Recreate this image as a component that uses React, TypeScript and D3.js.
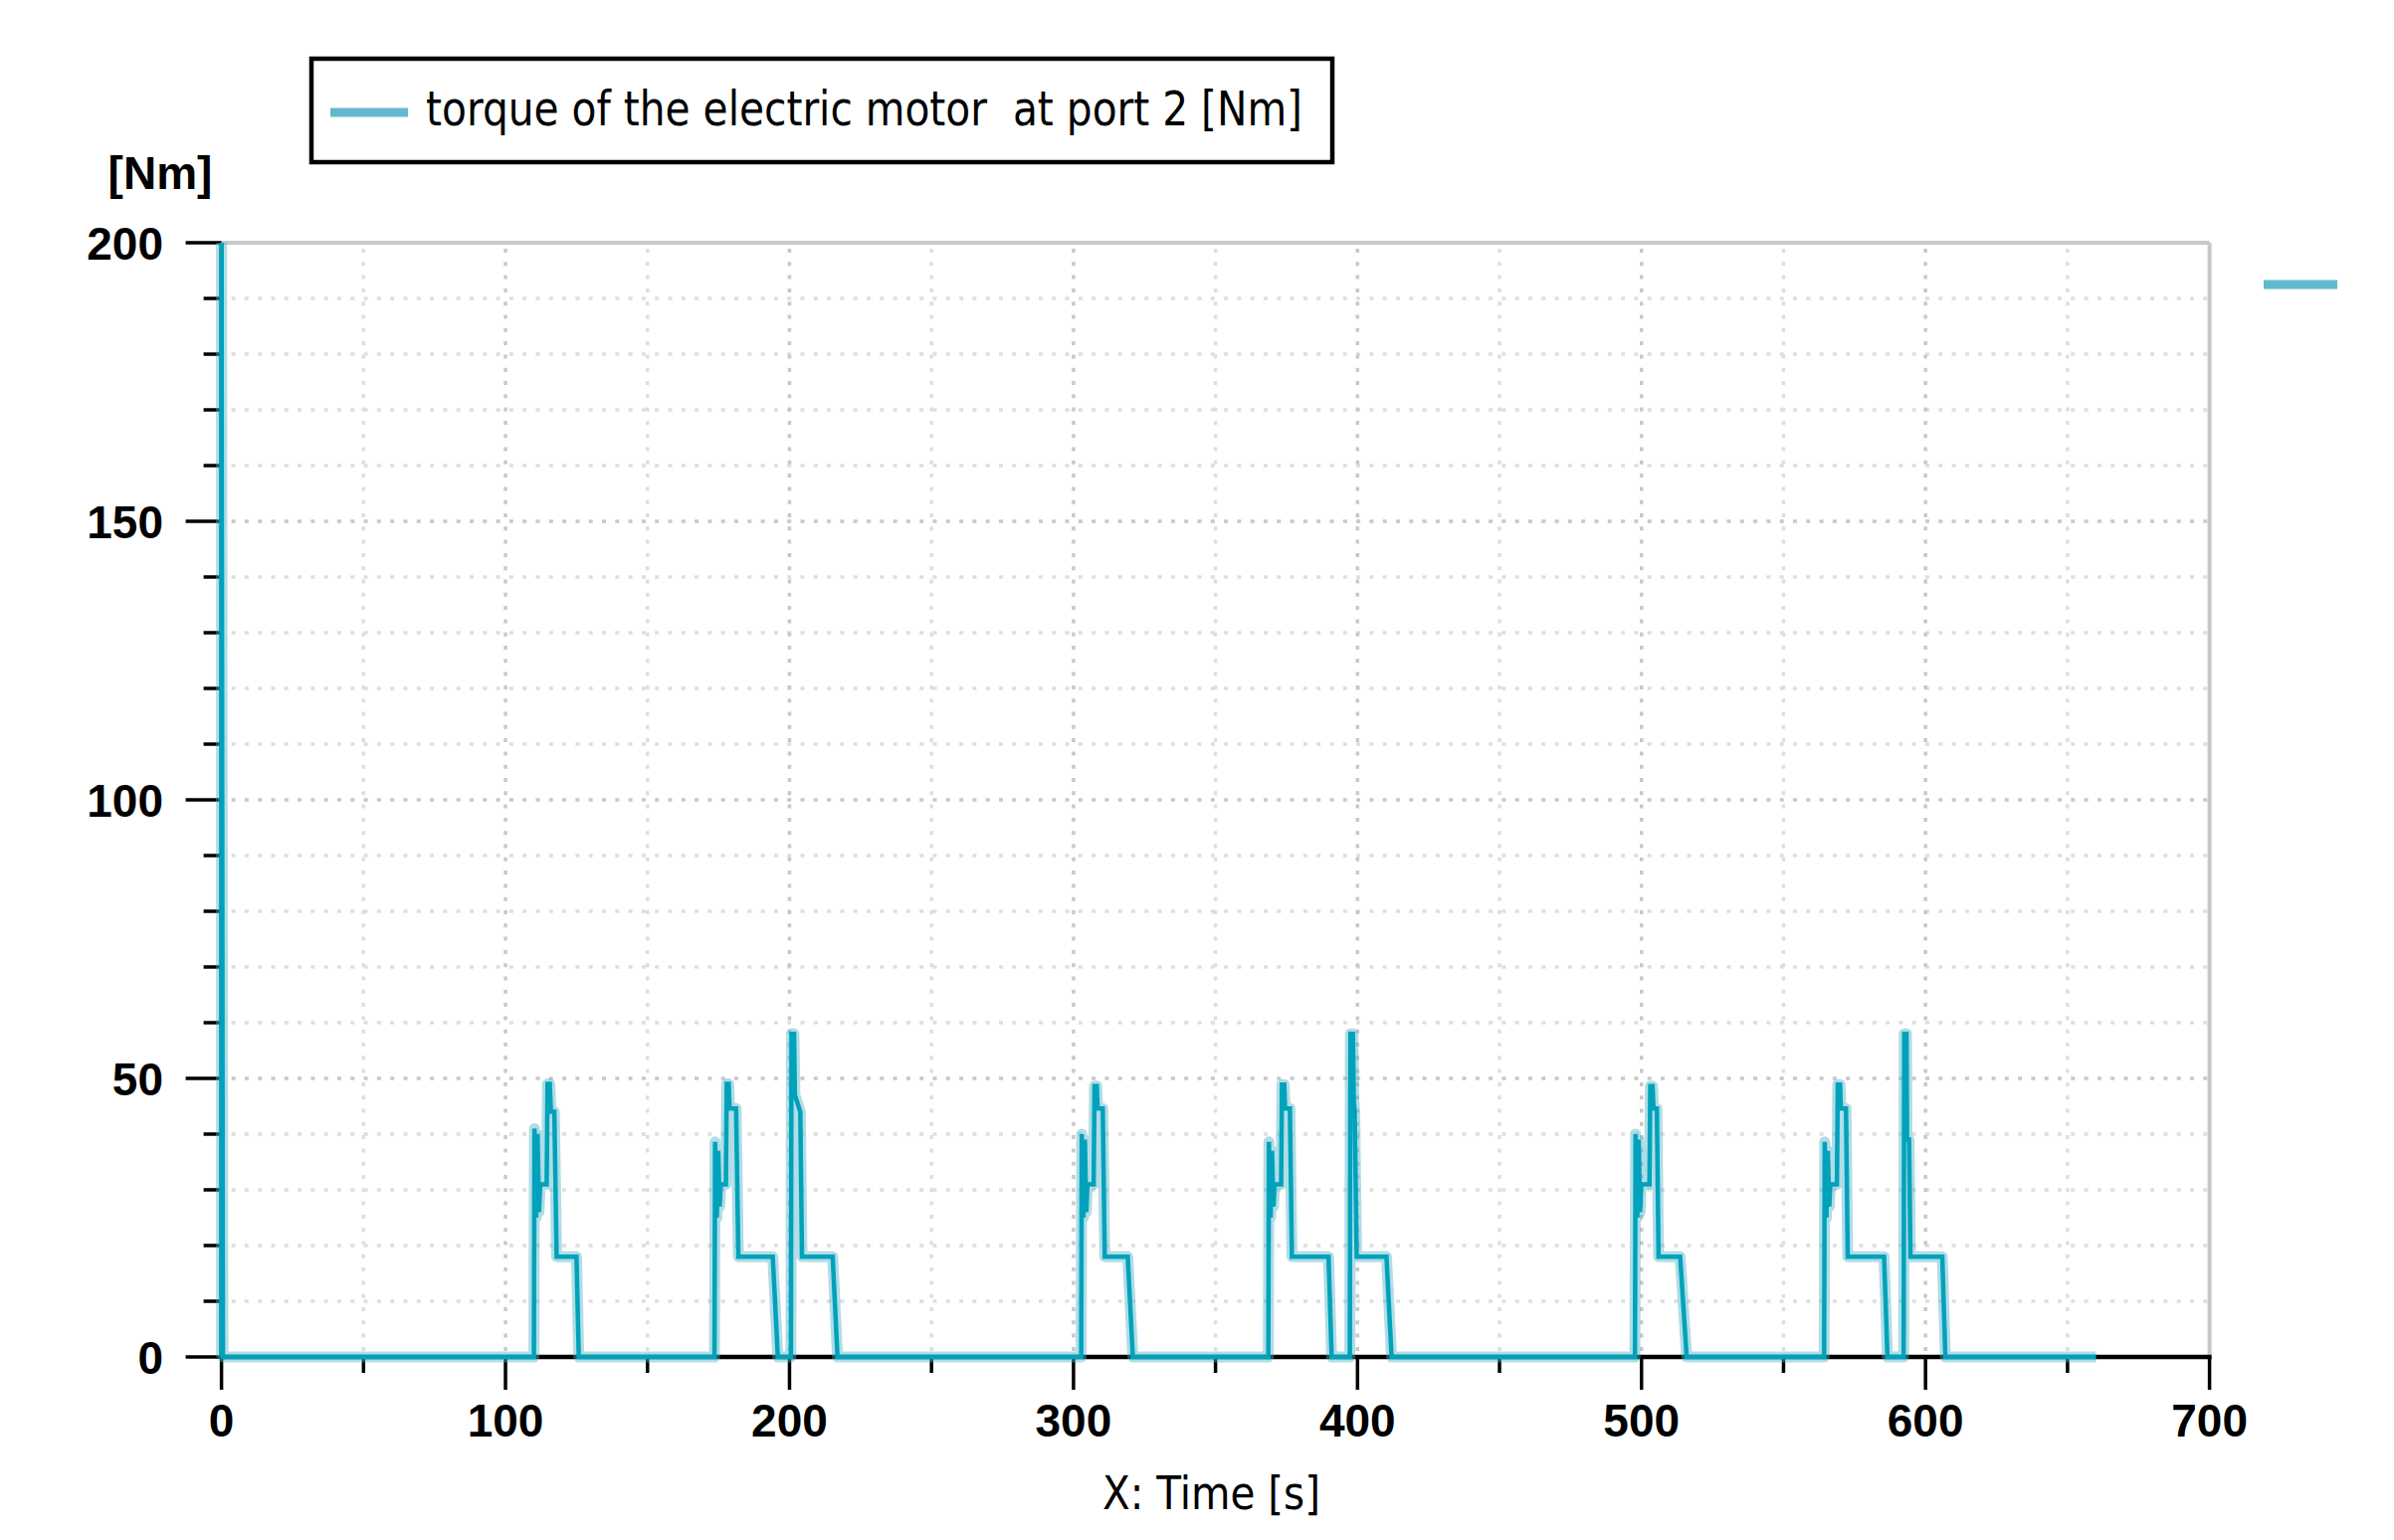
import React from "react";
import * as d3 from "d3";

// ---- data ----
const timeS: number[] = [
  0, 0, 0.5,
  110.0, 110.2, 110.8, 111.3, 111.8, 112.2, 114.5, 114.8, 115.6, 116.0, 117.2, 118.0, 125.0, 125.8,
  173.6, 173.8, 174.4, 174.9, 175.4, 175.8, 177.6, 177.9, 178.6, 178.9, 181.2, 182.0, 194.1, 195.9,
  200.5, 200.7, 201.6, 201.9, 203.8, 204.4, 215.2, 216.9,
  302.7, 302.9, 303.5, 304.0, 304.5, 304.9, 307.1, 307.4, 308.2, 308.5, 310.3, 311.0, 319.1, 320.9,
  368.6, 368.8, 369.4, 369.9, 370.4, 370.8, 373.1, 373.4, 374.2, 374.5, 376.2, 376.9, 389.8, 390.9,
  397.3, 397.5, 398.4, 398.7, 399.0, 399.7, 410.2, 412.0,
  497.7, 497.9, 498.5, 499.0, 499.5, 499.9, 502.8, 503.1, 503.9, 504.2, 505.4, 506.0, 513.6, 515.9,
  564.3, 564.5, 565.1, 565.6, 566.1, 566.5, 568.8, 569.1, 569.9, 570.2, 572.0, 572.6, 585.4, 586.6,
  592.3, 592.5, 593.3, 593.5, 594.2, 594.7, 605.9, 607.0,
  660.0,
];
const torqueNm: number[] = [
  0, 200, 0,
  0, 41, 25, 40, 26, 31, 31, 49, 49, 44, 44, 18, 18, 0,
  0, 38.6, 25, 37, 27, 31, 31, 49, 49, 44.6, 44.6, 18, 18, 0,
  0, 58, 58, 47, 44, 18, 18, 0,
  0, 40, 25, 39, 26, 31, 31, 48.6, 48.6, 44.6, 44.6, 18, 18, 0,
  0, 38.6, 25, 37, 27, 31, 31, 48.9, 48.9, 44.6, 44.6, 18, 18, 0,
  0, 58, 58, 46, 44, 18, 18, 0,
  0, 40, 25, 39, 26, 31, 31, 48.6, 48.6, 44.6, 44.6, 18, 18, 0,
  0, 38.6, 25, 37, 27, 31, 31, 48.9, 48.9, 44.6, 44.6, 18, 18, 0,
  0, 58, 58, 39, 39, 18, 18, 0,
  0,
];
const xTicks: number[] = [0, 100, 200, 300, 400, 500, 600, 700];
const xMinorTicks: number[] = [50, 150, 250, 350, 450, 550, 650];
const yTicks: number[] = [0, 50, 100, 150, 200];
const seriesName = "torque of the electric motor  at port 2 [Nm]";
const yUnit = "[Nm]";
const xTitle = "X: Time [s]";

export default function App() {
  const W = 2406, H = 1548;
  const x = d3.scaleLinear().domain([0, 700]).range([222.6, 2220.6]);
  const y = d3.scaleLinear().domain([0, 200]).range([1364, 244]);
  const pts = timeS.map((t, i) => [t, torqueNm[i]] as [number, number]);
  const line = d3.line<[number, number]>().x((d) => x(d[0])).y((d) => y(d[1]));
  const path = line(pts) || "";

  const hGrid = d3.range(10, 200, 10);
  const vGrid = d3.range(50, 700, 50);
  const yMinor = d3.range(10, 200, 10).filter((v) => v % 50 !== 0);

  const font = "'DejaVu Sans', Verdana, sans-serif";
  const bold = "'Liberation Sans', Arial, sans-serif";

  return (
    <svg width={W} height={H} style={{ position: "absolute", left: 0, top: 0, background: "#fff" }}>
      <rect x={0} y={0} width={W} height={H} fill="#fff" />
      {/* grid */}
      {hGrid.map((v) => (
        <line key={"h" + v} x1={x(0) + 10} x2={x(700)} y1={y(v)} y2={y(v)}
          stroke={v % 50 === 0 ? "#c8c8c8" : "#dedede"} strokeWidth={3.5} strokeDasharray="4 9.3" />
      ))}
      {vGrid.map((v) => (
        <line key={"v" + v} x1={x(v)} x2={x(v)} y1={y(200) + 6} y2={y(0)}
          stroke={v % 100 === 0 ? "#c8c8c8" : "#dedede"} strokeWidth={3.5} strokeDasharray="4 9.3" />
      ))}
      {/* frame top/right */}
      <line x1={x(0)} x2={x(700)} y1={y(200)} y2={y(200)} stroke="#c8c8c8" strokeWidth={4} />
      <line x1={x(700)} x2={x(700)} y1={y(200)} y2={y(0)} stroke="#c8c8c8" strokeWidth={4} />
      {/* axes */}
      <line x1={x(0)} x2={x(0)} y1={y(200)} y2={y(0)} stroke="#000" strokeWidth={4} />
      <line x1={x(0)} x2={x(700) + 2} y1={y(0)} y2={y(0)} stroke="#000" strokeWidth={4.5} />
      {yTicks.map((v) => (
        <line key={"yt" + v} x1={x(0) - 36} x2={x(0)} y1={y(v)} y2={y(v)} stroke="#000" strokeWidth={3.5} />
      ))}
      {yMinor.map((v) => (
        <line key={"ym" + v} x1={x(0) - 18} x2={x(0)} y1={y(v)} y2={y(v)} stroke="#000" strokeWidth={3.5} />
      ))}
      {xTicks.map((v) => (
        <line key={"xt" + v} x1={x(v)} x2={x(v)} y1={y(0)} y2={y(0) + 33} stroke="#000" strokeWidth={3.5} />
      ))}
      {xMinorTicks.map((v) => (
        <line key={"xm" + v} x1={x(v)} x2={x(v)} y1={y(0)} y2={y(0) + 16} stroke="#000" strokeWidth={3.5} />
      ))}
      {/* tick labels */}
      {yTicks.map((v) => (
        <text key={"yl" + v} x={164} y={y(v) + 17} textAnchor="end" fontFamily={bold} fontWeight="bold" fontSize={46} fill="#000">
          {v}
        </text>
      ))}
      {xTicks.map((v) => (
        <text key={"xl" + v} x={x(v)} y={1444} textAnchor="middle" fontFamily={bold} fontWeight="bold" fontSize={46} fill="#000">
          {v}
        </text>
      ))}
      <text x={161} y={190} textAnchor="middle" fontFamily={bold} fontWeight="bold" fontSize={46} fill="#000">{yUnit}</text>
      <text x={1108} y={1517} fontFamily={font} fontSize={46} fill="#000" textLength={219} lengthAdjust="spacingAndGlyphs">{xTitle}</text>

      {/* data line */}
      <g clipPath="url(#plotclip)">
        <path d={path} fill="none" stroke="#4fb3c8" strokeOpacity={0.45} strokeWidth={11} strokeLinejoin="round" />
        <path d={path} fill="none" stroke="#00a2bb" strokeWidth={4.5} strokeLinejoin="miter" />
      </g>
      <defs>
        <clipPath id="plotclip">
          <rect x={x(0) - 10} y={y(200)} width={x(700) - x(0) + 20} height={y(0) - y(200) + 10} />
        </clipPath>
      </defs>

      {/* right marker */}
      <line x1={2275} x2={2349} y1={286} y2={286} stroke="#62b9cd" strokeWidth={9} />

      {/* legend */}
      <rect x={313} y={59} width={1026} height={104} fill="#fff" stroke="#000" strokeWidth={4.5} />
      <line x1={332} x2={410} y1={113} y2={113} stroke="#62b9cd" strokeWidth={9} />
      <text x={428} y={126} fontFamily={font} fontSize={48} fill="#000" textLength={881} lengthAdjust="spacingAndGlyphs" style={{ whiteSpace: "pre" }}>
        {seriesName}
      </text>
    </svg>
  );
}
